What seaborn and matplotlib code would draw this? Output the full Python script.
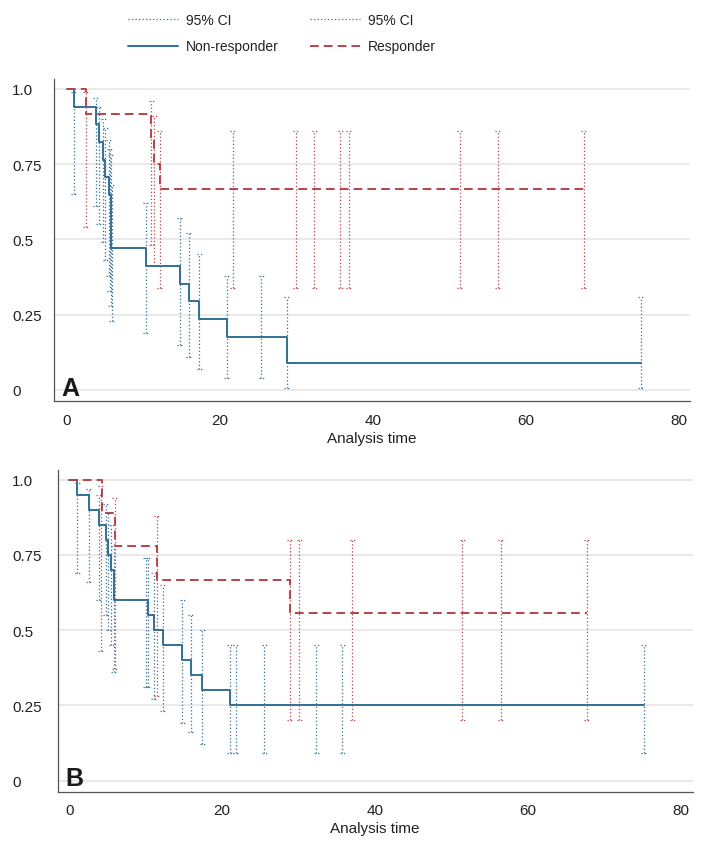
import numpy as np
import matplotlib
matplotlib.use("Agg")
import matplotlib.pyplot as plt
from matplotlib.lines import Line2D
import seaborn as sns

# Kaplan-Meier estimates (time, survival after each step)
# Panel A
a_nr_time = [0, 0.9, 3.8, 4.2, 4.75, 5.0, 5.5, 5.75, 10.3, 14.7, 15.9, 17.3, 20.9, 28.7, 75.0]
a_nr_surv = [1.0, 0.941, 0.882, 0.824, 0.765, 0.706, 0.647, 0.471, 0.412, 0.353, 0.294, 0.235, 0.176, 0.088, 0.088]
a_nr_ci_time = [0.9, 3.8, 4.2, 4.75, 5.0, 5.5, 5.6, 5.75, 5.9, 10.3, 14.7, 15.9, 17.3, 20.9, 25.4, 28.7, 75.0]
a_nr_ci_lo = [0.65, 0.61, 0.55, 0.49, 0.43, 0.38, 0.33, 0.28, 0.23, 0.19, 0.15, 0.11, 0.07, 0.04, 0.04, 0.006, 0.006]
a_nr_ci_hi = [0.99, 0.97, 0.94, 0.90, 0.87, 0.83, 0.80, 0.78, 0.68, 0.62, 0.57, 0.52, 0.45, 0.38, 0.38, 0.31, 0.31]

a_r_time = [0, 2.5, 11.0, 11.4, 12.1, 67.5]
a_r_surv = [1.0, 0.917, 0.833, 0.75, 0.667, 0.667]
a_r_ci_time = [2.5, 11.0, 11.4, 12.1, 21.7, 29.9, 32.3, 35.7, 36.8, 51.3, 56.3, 67.5]
a_r_ci_lo = [0.54, 0.48, 0.41, 0.34, 0.34, 0.34, 0.34, 0.34, 0.34, 0.34, 0.34, 0.34]
a_r_ci_hi = [0.99, 0.96, 0.91, 0.86, 0.86, 0.86, 0.86, 0.86, 0.86, 0.86, 0.86, 0.86]

# Panel B
b_nr_time = [0, 1.05, 2.6, 3.9, 4.8, 5.1, 5.5, 5.85, 10.3, 11.1, 12.2, 14.8, 15.9, 17.4, 21.0, 75.1]
b_nr_surv = [1.0, 0.95, 0.90, 0.85, 0.80, 0.75, 0.70, 0.60, 0.55, 0.50, 0.45, 0.40, 0.35, 0.30, 0.25, 0.25]
b_nr_ci_time = [1.05, 2.6, 3.9, 4.8, 5.1, 5.5, 5.85, 10.0, 10.3, 11.1, 12.2, 14.8, 15.9, 17.4,
                21.0, 21.8, 25.5, 32.3, 35.7, 75.1]
b_nr_ci_lo = [0.69, 0.66, 0.60, 0.55, 0.50, 0.45, 0.36, 0.31, 0.31, 0.27, 0.23, 0.19, 0.16, 0.12,
              0.09, 0.09, 0.09, 0.09, 0.09, 0.09]
b_nr_ci_hi = [0.99, 0.97, 0.95, 0.92, 0.89, 0.85, 0.78, 0.74, 0.74, 0.69, 0.65, 0.60, 0.55, 0.50,
              0.45, 0.45, 0.45, 0.45, 0.45, 0.45]

b_r_time = [0, 4.3, 6.0, 11.5, 28.8, 67.7]
b_r_surv = [1.0, 0.889, 0.778, 0.667, 0.556, 0.556]
b_r_ci_time = [4.1, 6.0, 11.5, 28.8, 30.1, 37.0, 51.4, 56.4, 67.7]
b_r_ci_lo = [0.43, 0.37, 0.28, 0.20, 0.20, 0.20, 0.20, 0.20, 0.20]
b_r_ci_hi = [0.98, 0.94, 0.88, 0.80, 0.80, 0.80, 0.80, 0.80, 0.80]

x_ticks = [0, 20, 40, 60, 80]
y_ticks = [0, 0.25, 0.5, 0.75, 1.0]
y_tick_labels = ["0", "0.25", "0.5", "0.75", "1.0"]

BLUE = "#336f92"
RED = "#b8434a"
DOT = (0, (1, 1.8))
DASH = (0, (4.5, 2.6))

sns.set_style("white")
plt.rcParams['font.family'] = ['Liberation Sans', 'DejaVu Sans']


def draw_ci(ax, t, lo, hi, color):
    t = np.asarray(t)
    ax.vlines(t, lo, hi, colors=color, linestyles=[DOT], lw=0.9)
    ax.hlines(lo, t - 0.35, t + 0.35, colors=color, linestyles=[DOT], lw=0.9)
    ax.hlines(hi, t - 0.35, t + 0.35, colors=color, linestyles=[DOT], lw=0.9)


def draw_panel(ax, nr, r, letter, xlim, ypad):
    draw_ci(ax, nr[2], nr[3], nr[4], BLUE)
    draw_ci(ax, r[2], r[3], r[4], RED)
    sns.lineplot(x=nr[0], y=nr[1], ax=ax, color=BLUE, lw=1.4,
                 drawstyle='steps-post', estimator=None, sort=False)
    sns.lineplot(x=r[0], y=r[1], ax=ax, color=RED, lw=1.4, linestyle=DASH,
                 drawstyle='steps-post', estimator=None, sort=False)

    ax.set_xlim(*xlim)
    ax.set_ylim(-0.037, 1.033)
    ax.set_xticks(x_ticks)
    ax.set_yticks(y_ticks)
    ax.set_yticklabels(y_tick_labels)
    ax.yaxis.grid(True, color='#e6e6e6', lw=1.2)
    ax.xaxis.grid(False)
    ax.set_axisbelow(True)
    sns.despine(ax=ax)
    for side in ['left', 'bottom']:
        ax.spines[side].set_color('#555555')
        ax.spines[side].set_linewidth(0.9)
    ax.tick_params(axis='both', direction='out', length=4.3, width=0.8,
                   color='#555555', labelsize=11, labelcolor='#222222')
    ax.tick_params(axis='x', pad=4)
    ax.tick_params(axis='y', pad=ypad)
    for lab in ax.get_yticklabels():
        lab.set_horizontalalignment('left')
    ax.set_xlabel('Analysis time', fontsize=11, color='#222222', labelpad=3)
    ax.set_ylabel('')
    ax.text(0.012, 0.02, letter, transform=ax.transAxes, fontsize=18,
            fontweight='bold', color='#1a1a1a', va='baseline',
            family=['Liberation Sans Narrow', 'Liberation Sans', 'DejaVu Sans'])


fig = plt.figure(figsize=(7.06, 8.53), dpi=100)
ax_a = fig.add_axes([54 / 706, 1 - 402 / 853, 636 / 706, 322 / 853])
ax_b = fig.add_axes([57.7 / 706, 1 - 792.7 / 853, 635 / 706, 322 / 853])

draw_panel(ax_a,
           (a_nr_time, a_nr_surv, a_nr_ci_time, a_nr_ci_lo, a_nr_ci_hi),
           (a_r_time, a_r_surv, a_r_ci_time, a_r_ci_lo, a_r_ci_hi),
           'A', (-1.7, 81.4), 26)
draw_panel(ax_b,
           (b_nr_time, b_nr_surv, b_nr_ci_time, b_nr_ci_lo, b_nr_ci_hi),
           (b_r_time, b_r_surv, b_r_ci_time, b_r_ci_lo, b_r_ci_hi),
           'B', (-1.5, 81.5), 28.6)

# shared legend on top
handles = [
    Line2D([], [], color=BLUE, lw=0.9, linestyle=DOT),
    Line2D([], [], color=BLUE, lw=1.4),
    Line2D([], [], color=RED, lw=0.9, linestyle=DOT),
    Line2D([], [], color=RED, lw=1.4, linestyle=DASH),
]
labels = ['95% CI', 'Non-responder', '95% CI', 'Responder']
fig.legend(handles, labels, ncol=2, loc='upper left',
           bbox_to_anchor=(128 / 706, 1 - 14 / 853), frameon=False,
           fontsize=10, handlelength=3.6, handletextpad=0.6,
           columnspacing=2.2, labelspacing=0.9, borderpad=0,
           borderaxespad=0, labelcolor='#222222')

fig.savefig('out.png', dpi=100)
